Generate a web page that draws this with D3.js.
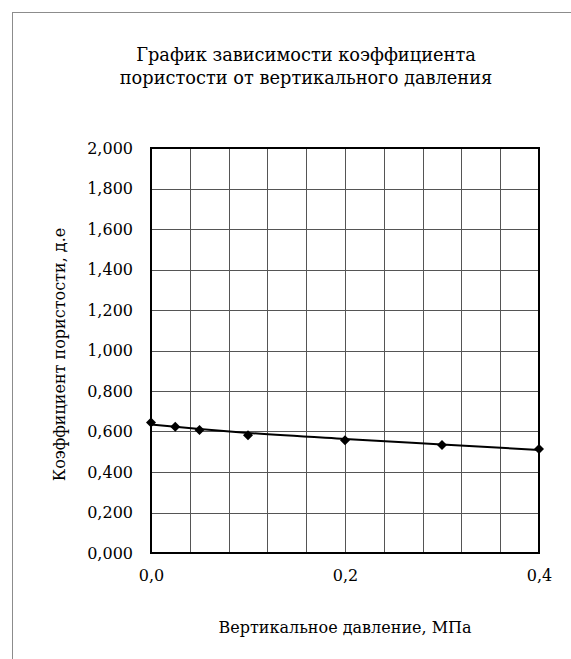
<!DOCTYPE html>
<html>
<head>
<meta charset="utf-8">
<script src="https://cdn.jsdelivr.net/npm/d3@7"></script>
<style>
  body { margin: 0; background: #fff; }
</style>
</head>
<body>
<svg id="chart" width="571" height="659"></svg>
<script>
// measured points
var pressure = [0, 0.025, 0.05, 0.1, 0.2, 0.3, 0.4]
var porosity = [0.644, 0.623, 0.608, 0.582, 0.557, 0.533, 0.513]

// trend line
var trendX = [0, 0.05, 0.1, 0.2, 0.3, 0.4]
var trendY = [0.634, 0.612, 0.593, 0.563, 0.536, 0.509]

var xTicks = [0, 0.2, 0.4]
var yTicks = [0, 0.2, 0.4, 0.6, 0.8, 1.0, 1.2, 1.4, 1.6, 1.8, 2.0]
var xGrid = [0.04, 0.08, 0.12, 0.16, 0.2, 0.24, 0.28, 0.32, 0.36]

var titleLines = ["График зависимости коэффициента", "пористости от вертикального давления"]
var xTitle = "Вертикальное давление, МПа"
var yTitle = "Коэффициент пористости, д.е"

var serif = "'DejaVu Serif', 'Noto Serif', Georgia, serif"

var svg = d3.select("#chart")
    .attr("font-family", serif)
    .style("font-family", serif)

// chart area border (runs off the right/bottom edge)
svg.append("rect")
    .attr("x", 12.5).attr("y", 12.5)
    .attr("width", 700).attr("height", 700)
    .attr("fill", "none")
    .attr("stroke", "#8c8c8c")

var plot = {left: 151, right: 539, top: 148, bottom: 553}

var x = d3.scaleLinear().domain([0, 0.4]).range([plot.left, plot.right])
var y = d3.scaleLinear().domain([0, 2]).range([plot.bottom, plot.top])

var fmt = (d) => d3.format(".1f")(d).replace(".", ",")
var fmtY = (d) => d3.format(".3f")(d).replace(".", ",")

// grid
var grid = svg.append("g").attr("stroke", "#555").attr("stroke-width", 1)
grid.selectAll(".vg").data(xGrid).enter().append("line")
    .attr("x1", (d) => Math.round(x(d)) + 0.5).attr("x2", (d) => Math.round(x(d)) + 0.5)
    .attr("y1", plot.top).attr("y2", plot.bottom)
grid.selectAll(".hg").data(yTicks.slice(1, -1)).enter().append("line")
    .attr("x1", plot.left).attr("x2", plot.right)
    .attr("y1", (d) => Math.round(y(d)) + 0.5).attr("y2", (d) => Math.round(y(d)) + 0.5)

// axes
var yAxis = d3.axisLeft(y).tickValues(yTicks).tickFormat(fmtY).tickSize(0).tickPadding(18)
var gy = svg.append("g").attr("transform", "translate(" + plot.left + ",0)").call(yAxis)
gy.select(".domain").remove()
gy.attr("font-family", serif)
gy.selectAll("text").attr("font-size", 16)

var xAxis = d3.axisBottom(x).tickValues(xTicks).tickFormat(fmt).tickSize(0).tickPadding(17)
var gx = svg.append("g").attr("transform", "translate(0," + plot.bottom + ")").call(xAxis)
gx.select(".domain").remove()
gx.attr("font-family", serif)
gx.selectAll("text").attr("font-size", 16)

// plot frame
svg.append("rect")
    .attr("x", plot.left).attr("y", plot.top)
    .attr("width", plot.right - plot.left).attr("height", plot.bottom - plot.top)
    .attr("fill", "none").attr("stroke", "#000").attr("stroke-width", 2)

// trend line
var trend = trendX.map((d, i) => ({x: d, y: trendY[i]}))
var line = d3.line()
    .x((d) => x(d.x))
    .y((d) => y(d.y))
    .curve(d3.curveMonotoneX)
svg.append("path").datum(trend)
    .attr("d", line)
    .attr("fill", "none").attr("stroke", "#000").attr("stroke-width", 2)

// markers
var points = pressure.map((d, i) => ({x: d, y: porosity[i]}))
svg.append("g").selectAll("path").data(points).enter().append("path")
    .attr("d", d3.symbol(d3.symbolSquare, 50))
    .attr("transform", (d) => "translate(" + x(d.x) + "," + y(d.y) + ") rotate(45)")
    .attr("fill", "#000")

// titles
svg.append("text")
    .attr("x", 306).attr("y", 61)
    .attr("text-anchor", "middle").attr("font-size", 17.8)
    .selectAll("tspan").data(titleLines).enter().append("tspan")
    .attr("x", 306).attr("dy", (d, i) => i ? 23 : 0)
    .text((d) => d)

svg.append("text")
    .attr("x", (plot.left + plot.right) / 2).attr("y", 633)
    .attr("text-anchor", "middle").attr("font-size", 16)
    .text(xTitle)

svg.append("text")
    .attr("transform", "translate(65," + ((plot.top + plot.bottom) / 2 + 4) + ") rotate(-90)")
    .attr("text-anchor", "middle").attr("font-size", 16)
    .text(yTitle)
</script>
</body>
</html>
